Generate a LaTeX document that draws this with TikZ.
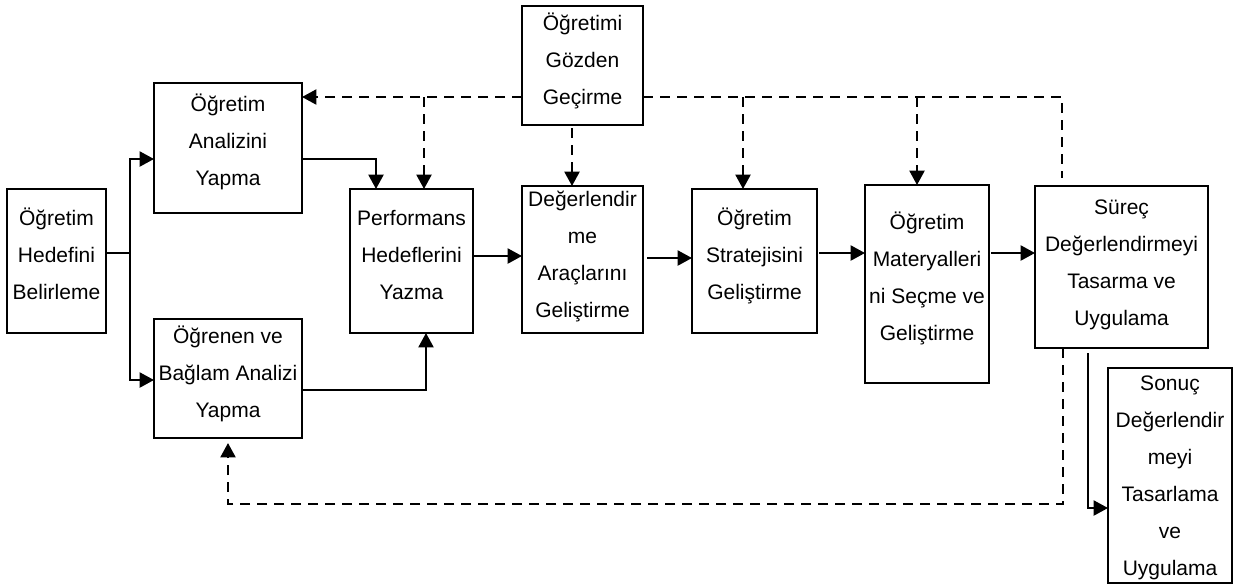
\documentclass[tikz,border=0pt]{standalone}
\usepackage{fontspec}
\setmainfont{Liberation Sans}
\usetikzlibrary{arrows.meta}
\begin{document}
\begin{tikzpicture}[x=0.5pt,y=-0.5pt,
  box/.style={draw, line width=1.15pt, inner sep=0pt, outer sep=0pt},
  lbl/.style={align=center, inner sep=0pt, font=\fontsize{10.5}{18.5}\selectfont},
  ln/.style={line width=1.15pt},
  arr/.style={line width=1.15pt, -{Triangle[length=7.2pt,width=7.5pt]}},
  dsh/.style={line width=1.15pt, dash pattern=on 5pt off 3.5pt},
  darr/.style={dsh, -{Triangle[length=7.2pt,width=7.5pt]}}
]
\useasboundingbox (0,0) rectangle (1245,586);
% boxes
\node[box, minimum width=49.5pt, minimum height=72pt]   (b1)  at (56.5,261) {};
\node[box, minimum width=74pt,   minimum height=65pt]   (b2)  at (228,148) {};
\node[box, minimum width=74pt,   minimum height=59.5pt] (b3)  at (228,378.5) {};
\node[box, minimum width=61.5pt, minimum height=72pt]   (b4)  at (411.5,261) {};
\node[box, minimum width=60.5pt, minimum height=73.5pt] (b5)  at (582.5,259.5) {};
\node[box, minimum width=60.5pt, minimum height=59.5pt] (b6)  at (582.5,65.5) {};
\node[box, minimum width=62.5pt, minimum height=72pt]   (b7)  at (754.5,261) {};
\node[box, minimum width=62pt,   minimum height=99pt]   (b8)  at (927,284) {};
\node[box, minimum width=86.5pt, minimum height=81pt]   (b9)  at (1121.5,267) {};
\node[box, minimum width=62pt,   minimum height=107.5pt] (b10) at (1170,475.5) {};
% texts
\node[lbl] (t1)  at (56.5,254.7) {\strut Öğretim\\Hedefini\\Belirleme\strut};
\node[lbl] (t2)  at (228,141.5) {\strut Öğretim\\Analizini\\Yapma\strut};
\node[lbl] (t3)  at (228,373.5) {\strut Öğrenen ve\\Bağlam Analizi\\Yapma\strut};
\node[lbl] (t4)  at (411.5,255) {\strut Performans\\Hedeflerini\\Yazma\strut};
\node[lbl] (t5)  at (582.5,255) {\strut Değerlendir\\me\\Araçlarını\\Geliştirme\strut};
\node[lbl] (t6)  at (582.5,60) {\strut Öğretimi\\Gözden\\Geçirme\strut};
\node[lbl] (t7)  at (754.5,255) {\strut Öğretim\\Stratejisini\\Geliştirme\strut};
\node[lbl] (t8)  at (927,278) {\strut Öğretim\\Materyalleri\\ni Seçme ve\\Geliştirme\strut};
\node[lbl] (t9)  at (1121.5,263) {\strut Süreç\\Değerlendirmeyi\\Tasarma ve\\Uygulama\strut};
\node[lbl] (t10) at (1170,476) {\strut Sonuç\\Değerlendir\\meyi\\Tasarlama\\ve\\Uygulama\strut};
% solid connectors
\coordinate (j1)  at (130,253);
\coordinate (j1a) at (130,159);
\coordinate (j1b) at (130,380);
\draw[ln] (b1.east |- j1) -- (j1);
\draw[arr] (j1) -- (j1a) -- (b2.west |- j1a);
\draw[arr] (j1) -- (j1b) -- (b3.west |- j1b);
\coordinate (c2) at (376,159);
\draw[arr] (b2.east |- c2) -- (c2) -- (c2 |- b4.north);
\coordinate (c3) at (426,390);
\draw[arr] (b3.east |- c3) -- (c3) -- (c3 |- b4.south);
\coordinate (c4) at (0,256);
\draw[arr] (b4.east |- c4) -- (b5.west |- c4);
\coordinate (c5) at (0,258);
\draw[arr, shorten <=2pt] (b5.east |- c5) -- (b7.west |- c5);
\coordinate (c6) at (0,253);
\draw[arr, shorten <=1pt] (b7.east |- c6) -- (b8.west |- c6);
\draw[arr, shorten <=1pt] (b8.east |- c6) -- (b9.west |- c6);
\coordinate (c8) at (1088,508);
\draw[arr, shorten <=2.5pt] (c8 |- b9.south) -- (c8) -- (b10.west |- c8);
% dashed connectors
\coordinate (d1) at (424,97);
\draw[darr] (b6.west |- d1) -- (b2.east |- d1);
\draw[darr] (d1) -- (d1 |- b4.north);
\coordinate (d2) at (572,0);
\draw[darr, shorten <=1.5pt] (d2 |- b6.south) -- (d2 |- b5.north);
\coordinate (d3)  at (1062,97);
\coordinate (d3e) at (1062,178);
\draw[dsh] (b6.east |- d3) -- (d3) -- (d3e);
\coordinate (d4) at (743,97);
\draw[darr] (d4) -- (d4 |- b7.north);
\coordinate (d5) at (917,97);
\draw[darr] (d5) -- (d5 |- b8.north);
\coordinate (d6) at (1063,504);
\coordinate (d7) at (228,504);
\draw[darr, shorten >=2.5pt] (d6 |- b9.south) -- (d6) -- (d7) -- (d7 |- b3.south);
\end{tikzpicture}
\end{document}
